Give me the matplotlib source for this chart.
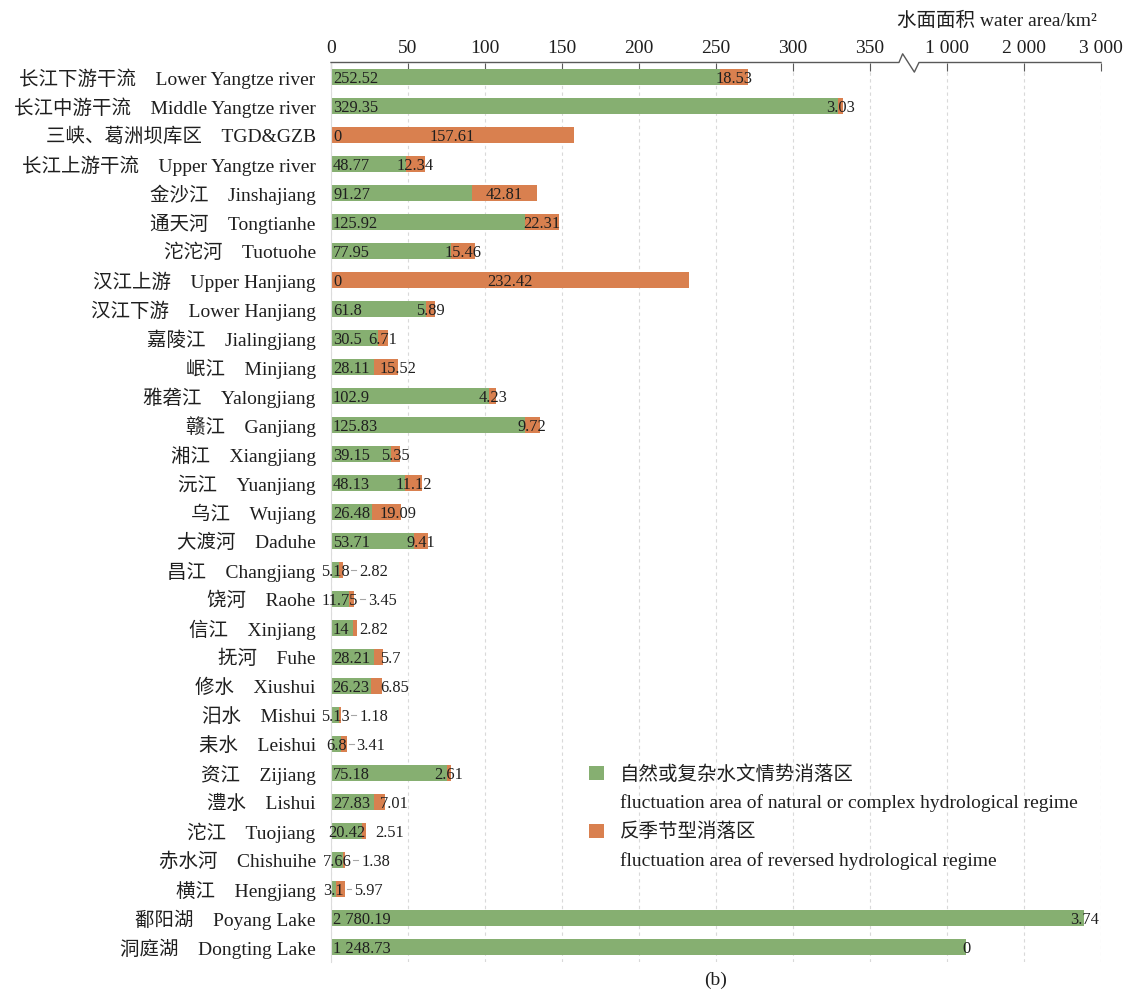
import numpy as np
import matplotlib
matplotlib.use("Agg")
import matplotlib.pyplot as plt
from matplotlib.patches import Patch

plt.rcParams['font.family'] = ['Liberation Serif', 'Noto Sans CJK SC']

names_cn = ["长江下游干流", "长江中游干流", "三峡、葛洲坝库区", "长江上游干流", "金沙江", "通天河",
            "沱沱河", "汉江上游", "汉江下游", "嘉陵江", "岷江", "雅砻江", "赣江", "湘江", "沅江",
            "乌江", "大渡河", "昌江", "饶河", "信江", "抚河", "修水", "汨水", "耒水", "资江",
            "澧水", "沱江", "赤水河", "横江", "鄱阳湖", "洞庭湖"]
names_en = ["Lower Yangtze river", "Middle Yangtze river", "TGD&GZB", "Upper Yangtze river",
            "Jinshajiang", "Tongtianhe", "Tuotuohe", "Upper Hanjiang", "Lower Hanjiang",
            "Jialingjiang", "Minjiang", "Yalongjiang", "Ganjiang", "Xiangjiang", "Yuanjiang",
            "Wujiang", "Daduhe", "Changjiang", "Raohe", "Xinjiang", "Fuhe", "Xiushui", "Mishui",
            "Leishui", "Zijiang", "Lishui", "Tuojiang", "Chishuihe", "Hengjiang", "Poyang Lake",
            "Dongting Lake"]
natural = [252.52, 329.35, 0, 48.77, 91.27, 125.92, 77.95, 0, 61.8, 30.5, 28.11, 102.9,
           125.83, 39.15, 48.13, 26.48, 53.71, 5.18, 11.75, 14, 28.21, 26.23, 5.13, 6.8,
           75.18, 27.83, 20.42, 7.66, 3.1, 2780.19, 1248.73]
reversed_regime = [18.53, 3.03, 157.61, 12.34, 42.81, 22.31, 15.46, 232.42, 5.89, 6.71,
                   15.52, 4.23, 9.72, 5.35, 11.12, 19.09, 9.41, 2.82, 3.45, 2.82, 5.7, 6.85,
                   1.18, 3.41, 2.61, 7.01, 2.51, 1.38, 5.97, 3.74, 0]
x_ticks = [0, 50, 100, 150, 200, 250, 300, 350, 1000, 2000, 3000]
x_tick_labels = ["0", "50", "100", "150", "200", "250", "300", "350", "1 000", "2 000", "3 000"]

legend_labels = ["自然或复杂水文情势消落区",
                 "fluctuation area of natural or complex hydrological regime",
                 "反季节型消落区",
                 "fluctuation area of reversed hydrological regime"]

GREEN = "#86AF71"
ORANGE = "#D9804F"
TEXT = "#1f1f1f"
AXIS = "#595959"

# broken axis: linear up to BREAK, compressed gap, then 1000 per 50 units
BREAK = 376.0


def fwd(v):
    v = np.asarray(v, dtype=float)
    mid = BREAK + (v - BREAK) * (400 - BREAK) / (1000 - BREAK)
    hi = 350 + v / 20.0
    return np.where(v <= BREAK, v, np.where(v < 1000, mid, hi))


def inv(u):
    u = np.asarray(u, dtype=float)
    mid = BREAK + (u - BREAK) * (1000 - BREAK) / (400 - BREAK)
    hi = (u - 350) * 20.0
    return np.where(u <= BREAK, u, np.where(u < 400, mid, hi))


def fmt(v):
    s = f"{v:,.2f}".rstrip("0").rstrip(".")
    return s.replace(",", " ")


W, H = 1126, 991
fig = plt.figure(figsize=(W / 100, H / 100), dpi=100)
ax = fig.add_axes([331 / W, 1 - 961.5 / H, 770 / W, 899 / H])
ax.set_xscale("function", functions=(fwd, inv))
ax.set_xlim(0, 3000)
n = len(names_cn)
ax.set_ylim(n - 0.5, -0.5)

y = np.arange(n)
nat = np.array(natural, dtype=float)
rev = np.array(reversed_regime, dtype=float)
bar_h = 0.58
ax.barh(y, nat, height=bar_h, color=GREEN, zorder=2)
ax.barh(y, rev, left=nat, height=bar_h, color=ORANGE, zorder=2)

ax.set_xticks(x_ticks, x_tick_labels)
ax.xaxis.tick_top()
ax.tick_params(axis="x", direction="in", length=6, width=0.8, color=AXIS, pad=4,
               labelsize=14, labelcolor=TEXT)
ax.minorticks_off()
ax.set_yticks(y, [f"{c}\u3000{e}" for c, e in zip(names_cn, names_en)])
ax.tick_params(axis="y", length=0, pad=11, labelsize=14, labelcolor=TEXT)

ax.set_axisbelow(True)
ax.grid(axis="x", color="#d9d9d9", linestyle=(0, (3, 3)), linewidth=0.8)
for side in ("top", "right", "bottom"):
    ax.spines[side].set_visible(False)
ax.spines["left"].set_color("#dcdcdc")
ax.spines["left"].set_linewidth(0.8)

# top axis line with a zigzag marking the break
ah = 899.0
zx = [0, 368.8 / 500, 371.2 / 500, 378.8 / 500, 381.8 / 500, 1]
zy = [1, 1, 1 + 8.7 / ah, 1 - 9.6 / ah, 1, 1]
ax.plot(zx, zy, transform=ax.transAxes, color=AXIS, lw=1.0, clip_on=False, zorder=5)

# value labels
fig.canvas.draw()
renderer = fig.canvas.get_renderer()
to_data = ax.transData.inverted()
LBL = 11.8
BASE_DROP = 6.0  # baseline sits this many pixels below the bar centre
for i in range(n):
    x0, yd = ax.transData.transform((0, i))
    xg = ax.transData.transform((nat[i], i))[0]
    xe = ax.transData.transform((nat[i] + rev[i], i))[0]
    yb = yd - BASE_DROP

    tg = ax.text(0, i, fmt(nat[i]), ha="left", va="baseline", fontsize=LBL, color=TEXT, zorder=4)
    wg = tg.get_window_extent(renderer).width
    if wg + 4 <= xg - x0 or nat[i] == 0:
        gl = x0 + 2
    else:
        gl = (x0 + xg) / 2 - wg / 2
    tg.set_position(tuple(to_data.transform((gl, yb))))
    g_right = gl + wg

    to = ax.text(0, i, fmt(rev[i]), ha="left", va="baseline", fontsize=LBL, color=TEXT, zorder=4)
    wo = to.get_window_extent(renderer).width
    ol = (xg + xe) / 2 - wo / 2
    if ol < g_right + 2:
        ol = g_right + 10
        # short leader line when the whole bar is much shorter than its first label
        if (xe - x0) < 0.9 * wg:
            start = max(xe, g_right) + 2
            end = ol - 3
            xs = to_data.transform([(start, yd), (end, yd)])[:, 0]
            ax.plot(xs, [i, i], color="#a6a6a6", lw=0.8, zorder=3)
    to.set_position(tuple(to_data.transform((ol, yb))))

# legend
handles = [Patch(facecolor=GREEN, edgecolor="none"),
           Patch(facecolor="none", edgecolor="none"),
           Patch(facecolor=ORANGE, edgecolor="none"),
           Patch(facecolor="none", edgecolor="none")]
leg = ax.legend(handles, legend_labels, loc="upper left",
                bbox_to_anchor=(589 / W, 1 - 765 / H), bbox_transform=fig.transFigure,
                frameon=False, fontsize=14, borderpad=0, borderaxespad=0,
                handlelength=0.75, handleheight=0.75, handletextpad=0.85,
                labelspacing=0.55)
for t in leg.get_texts():
    t.set_color(TEXT)

fig.text(1097 / W, 1 - 21 / H, "水面面积 water area/km²", ha="right", va="center",
         fontsize=14, color=TEXT)
fig.text(716 / W, 1 - 980 / H, "(b)", ha="center", va="center", fontsize=14, color=TEXT)

fig.savefig("out.png", dpi=100)
